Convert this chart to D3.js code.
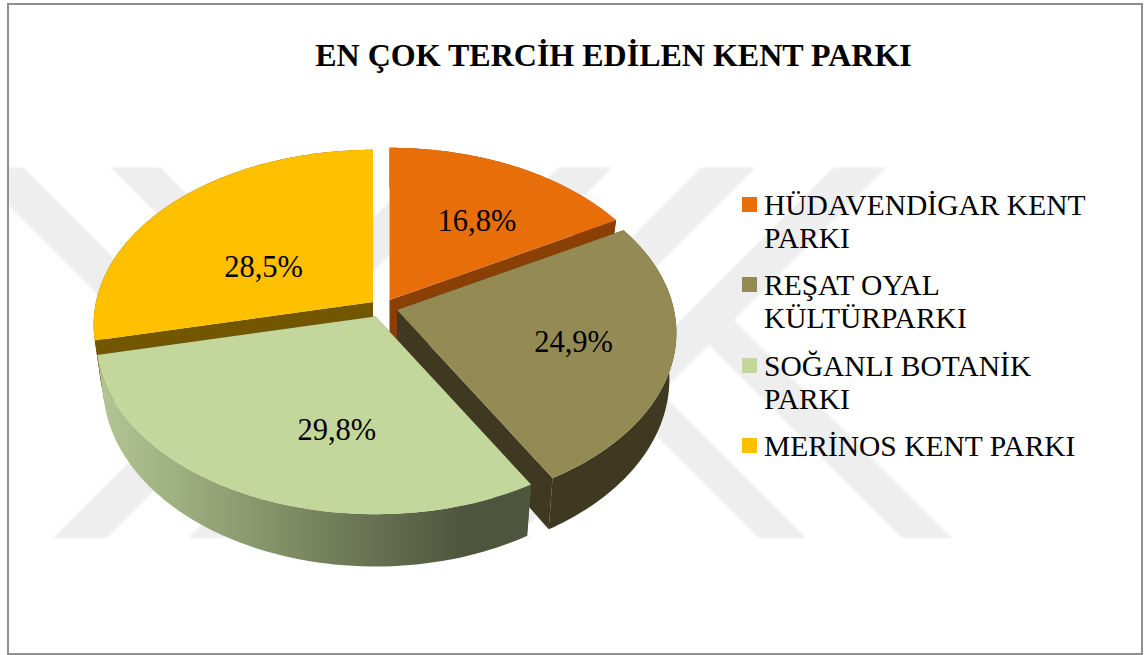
<!DOCTYPE html>
<html lang="tr">
<head>
<meta charset="utf-8">
<title>EN ÇOK TERCİH EDİLEN KENT PARKI</title>
<script src="https://cdn.jsdelivr.net/npm/d3@7/dist/d3.min.js"></script>
<style>
html,body{margin:0;padding:0;background:#fff;}
svg{display:block;}
text{font-family:"Liberation Serif","Times New Roman",serif;fill:#000;}
</style>
</head>
<body>
<svg id="c" width="1144" height="655"></svg>
<script>
const chartTitle = "EN ÇOK TERCİH EDİLEN KENT PARKI";
const categories = ["HÜDAVENDİGAR KENT PARKI", "REŞAT OYAL KÜLTÜRPARKI", "SOĞANLI BOTANİK PARKI", "MERİNOS KENT PARKI"];
const legendLines = [["HÜDAVENDİGAR KENT", "PARKI"], ["REŞAT OYAL", "KÜLTÜRPARKI"], ["SOĞANLI BOTANİK", "PARKI"], ["MERİNOS KENT PARKI"]];
const values = [16.8, 24.9, 29.8, 28.5];
const topColors = ["#e86e0a", "#948a54", "#c3d69b", "#ffc000"];
const wallColors = ["#8a3f05", "#3f3921", "#5a6445", "#735700"];

const W = 1144, H = 655;
const svg = d3.select("#c");
const defs = svg.append("defs");

// Frame-clipped watermark
defs.append("clipPath").attr("id", "inner").append("rect")
  .attr("x", 9).attr("y", 5).attr("width", 1132).attr("height", 648);
defs.append("filter").attr("id", "soft").append("feGaussianBlur").attr("stdDeviation", 0.9);
const wmTop = 167.5, wmBottom = 538;
const wmBands = [
  {a: -197, b: -144, dir: 1},
  {a: -57,  b: -7,   dir: 1},
  {a: 591,  b: 645,  dir: -1},
  {a: 726,  b: 780,  dir: -1},
  {a: 869,  b: 923,  dir: -1},
  {a: 1001, b: 1054, dir: -1},
  {a: 221,  b: 268,  dir: 1},
  {a: 364,  b: 414,  dir: 1, stop: 1054}
];
const wm = svg.append("g").attr("clip-path", "url(#inner)").append("g")
  .attr("fill", "#eeeeee").attr("filter", "url(#soft)");
wm.selectAll("polygon").data(wmBands).join("polygon").attr("points", d => {
  if (d.dir === 1) {
    if (d.stop) {
      const p = (c) => [(d.stop + c) / 2, (d.stop - c) / 2];
      return [p(d.a), p(d.b), [d.b + wmBottom, wmBottom], [d.a + wmBottom, wmBottom]].join(" ");
    }
    return [[d.a + wmTop, wmTop], [d.b + wmTop, wmTop], [d.b + wmBottom, wmBottom], [d.a + wmBottom, wmBottom]].join(" ");
  }
  return [[d.a - wmTop, wmTop], [d.b - wmTop, wmTop], [d.b - wmBottom, wmBottom], [d.a - wmBottom, wmBottom]].join(" ");
});

// Frame
svg.append("rect").attr("x", 8).attr("y", 4).attr("width", 1134).attr("height", 650)
  .attr("fill", "none").attr("stroke", "#8f8f8f").attr("stroke-width", 2);

// Title
svg.append("text").attr("x", 613.5).attr("y", 65.5).attr("text-anchor", "middle")
  .attr("font-size", 32).attr("font-weight", "bold").text(chartTitle);

// 3D pie projection
const pieLayout = d3.pie().sort(null).startAngle(0).endAngle(2 * Math.PI);
const arcs = pieLayout(values);
const B = 277, A = 172, P = 0.13, THICK = 45.5, SHRINK = 0.025;
const apexes = [[389.5, 300], [397, 310], [375.5, 316.5], [373, 302]];
function project(apex, r, th, depth) {
  const X = r * Math.sin(th), Y = r * Math.cos(th);
  const s = 1 / (1 + P * Y);
  return [apex[0] + B * X * s * (1 - SHRINK * depth), apex[1] - A * Y * s + THICK * s * depth];
}
const line = d3.line();
const sample = (a, b) => { const n = 80; return d3.range(n + 1).map(i => a + (b - a) * i / n); };

// Green wall gradient
const grad = defs.append("linearGradient").attr("id", "greenWall")
  .attr("gradientUnits", "userSpaceOnUse").attr("x1", 97).attr("x2", 530).attr("y1", 0).attr("y2", 0);
[[0, "#b4c695"], [0.35, "#8a9a6e"], [0.65, "#666f50"], [0.85, "#4d563c"], [1, "#4d563c"]].forEach(s =>
  grad.append("stop").attr("offset", s[0]).attr("stop-color", s[1]));

const drawOrder = [3, 0, 1, 2];
const pieG = svg.append("g");
drawOrder.forEach(i => {
  const d = arcs[i], ap = apexes[i];
  const g = pieG.append("g");
  const wall = i === 2 ? "url(#greenWall)" : wallColors[i];
  const ths = sample(d.startAngle, d.endAngle);
  [d.startAngle, d.endAngle].forEach(th => {
    const pts = [project(ap, 0, th, 0), project(ap, 1, th, 0), project(ap, 1, th, 1), project(ap, 0, th, 1)];
    g.append("path").attr("d", line(pts) + "Z").attr("fill", wallColors[i]);
  });
  const outer = ths.map(t => project(ap, 1, t, 0)).concat(ths.slice().reverse().map(t => project(ap, 1, t, 1)));
  g.append("path").attr("d", line(outer) + "Z").attr("fill", wall);
  const top = [project(ap, 0, 0, 0)].concat(ths.map(t => project(ap, 1, t, 0)));
  g.append("path").attr("d", line(top) + "Z").attr("fill", topColors[i]);
});

// Data labels
const labelNudge = [[3, 11], [-1, 2], [40, 3], [24, 31]];
const pct = v => d3.format(".1f")(v).replace(".", ",") + "%";
svg.append("g").selectAll("text").data(arcs).join("text")
  .attr("text-anchor", "middle").attr("font-size", 30.5)
  .attr("x", (d, i) => project(apexes[i], 0.65, (d.startAngle + d.endAngle) / 2, 0)[0] + labelNudge[i][0])
  .attr("y", (d, i) => project(apexes[i], 0.65, (d.startAngle + d.endAngle) / 2, 0)[1] + labelNudge[i][1] + 10)
  .text(d => pct(d.value));

// Legend
const legendTop = [205, 285, 366, 446];
const lineStep = 33;
const leg = svg.append("g").selectAll("g").data(categories).join("g");
leg.append("rect").attr("x", 742).attr("width", 15).attr("height", 15)
  .attr("y", (d, i) => legendTop[i] - 8).attr("fill", (d, i) => topColors[i]);
leg.each(function (d, i) {
  d3.select(this).selectAll("text").data(legendLines[i]).join("text")
    .attr("x", 764).attr("y", (t, j) => legendTop[i] + j * lineStep + 10)
    .attr("font-size", 29.5).text(t => t);
});
</script>
</body>
</html>
